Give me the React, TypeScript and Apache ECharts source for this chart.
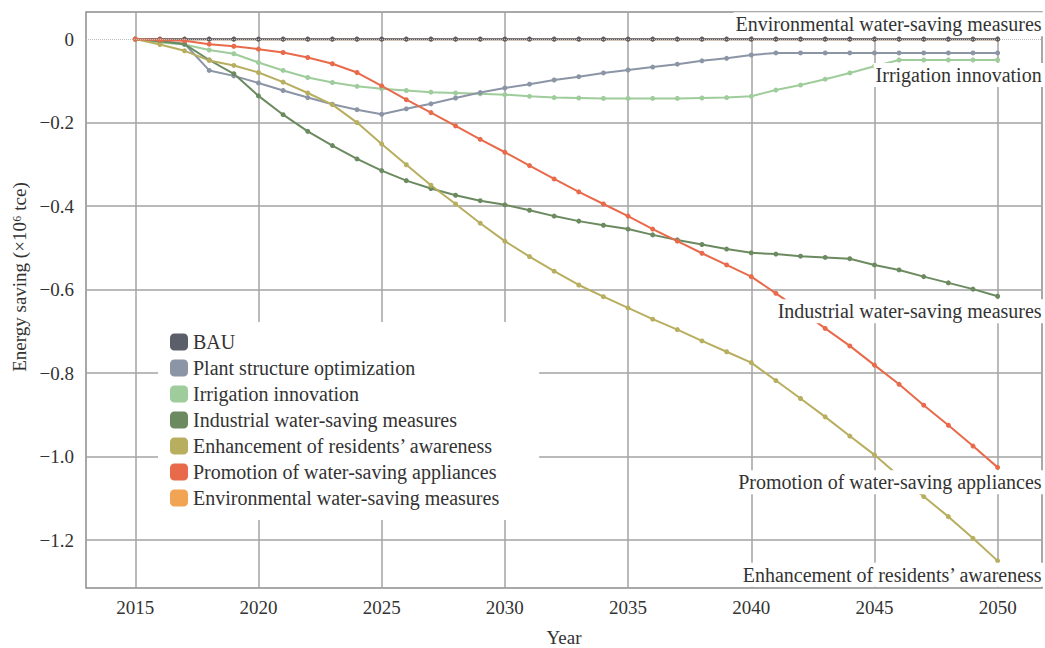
import React, { useEffect, useRef } from "react";
import * as echarts from "echarts";

const years = [2015, 2016, 2017, 2018, 2019, 2020, 2021, 2022, 2023, 2024, 2025, 2026, 2027, 2028, 2029, 2030, 2031, 2032, 2033, 2034, 2035, 2036, 2037, 2038, 2039, 2040, 2041, 2042, 2043, 2044, 2045, 2046, 2047, 2048, 2049, 2050];

const bau = [0, 0, 0, 0, 0, 0, 0, 0, 0, 0, 0, 0, 0, 0, 0, 0, 0, 0, 0, 0, 0, 0, 0, 0, 0, 0, 0, 0, 0, 0, 0, 0, 0, 0, 0, 0];
const plantStructure = [0, -0.004, -0.011, -0.075, -0.088, -0.105, -0.123, -0.140, -0.156, -0.169, -0.180, -0.167, -0.155, -0.141, -0.128, -0.117, -0.108, -0.098, -0.090, -0.081, -0.074, -0.067, -0.060, -0.052, -0.046, -0.038, -0.033, -0.033, -0.033, -0.033, -0.033, -0.033, -0.033, -0.033, -0.033, -0.033];
const irrigation = [0, -0.008, -0.013, -0.026, -0.035, -0.056, -0.075, -0.092, -0.104, -0.113, -0.119, -0.123, -0.127, -0.129, -0.131, -0.133, -0.137, -0.140, -0.141, -0.142, -0.142, -0.142, -0.142, -0.141, -0.140, -0.137, -0.122, -0.110, -0.096, -0.081, -0.065, -0.050, -0.050, -0.050, -0.050, -0.050];
const industrial = [0, -0.005, -0.012, -0.050, -0.083, -0.136, -0.181, -0.221, -0.255, -0.287, -0.315, -0.339, -0.358, -0.374, -0.387, -0.397, -0.410, -0.424, -0.436, -0.446, -0.455, -0.469, -0.481, -0.492, -0.503, -0.512, -0.515, -0.520, -0.523, -0.526, -0.541, -0.553, -0.569, -0.584, -0.599, -0.616];
const residents = [0, -0.013, -0.028, -0.051, -0.063, -0.080, -0.103, -0.129, -0.157, -0.200, -0.251, -0.301, -0.350, -0.395, -0.441, -0.484, -0.521, -0.556, -0.589, -0.617, -0.644, -0.671, -0.696, -0.723, -0.749, -0.775, -0.818, -0.861, -0.905, -0.951, -0.996, -1.047, -1.096, -1.144, -1.196, -1.250];
const appliances = [0, -0.002, -0.004, -0.012, -0.017, -0.024, -0.032, -0.044, -0.059, -0.080, -0.112, -0.145, -0.176, -0.208, -0.240, -0.271, -0.303, -0.335, -0.366, -0.395, -0.424, -0.455, -0.484, -0.513, -0.541, -0.569, -0.609, -0.650, -0.693, -0.735, -0.781, -0.827, -0.877, -0.925, -0.975, -1.026];
const environmental = [0, 0, 0, 0, 0, 0, 0, 0, 0, 0, 0, 0, 0, 0, 0, 0, 0, 0, 0, 0, 0, 0, 0, 0, 0, 0, 0, 0, 0, 0, 0, 0, 0, 0, 0, 0];

const xTicks = [2015, 2020, 2025, 2030, 2035, 2040, 2045, 2050];
const yLabelTicks = [-1.2, -1.0, -0.8, -0.6, -0.4, -0.2, 0];
const yGridTicks = [-1.2, -1.0, -0.8, -0.6, -0.4, -0.2];

const names = [
  "BAU",
  "Plant structure optimization",
  "Irrigation innovation",
  "Industrial water-saving measures",
  "Enhancement of residents\u2019 awareness",
  "Promotion of water-saving appliances",
  "Environmental water-saving measures",
];
const colors = ["#5b5f69", "#8b95a6", "#9fcc9b", "#6b8a60", "#b8ae5f", "#e96a4a", "#f2a455"];

const FONT = "Liberation Serif";
const TEXT = "#333333";

function pairs(vals: number[]) {
  return years.map((y, i) => [y, vals[i]]);
}

export default function App() {
  const ref = useRef<HTMLDivElement>(null);
  useEffect(() => {
    if (!ref.current) return;
    const chart = echarts.init(ref.current, undefined, { renderer: "svg" });

    const endLabel = (show: boolean, dy: number) =>
      show
        ? {
            show: true,
            formatter: "{a}",
            align: "right",
            verticalAlign: "middle",
            offset: [38, dy],
            color: TEXT,
            fontFamily: FONT,
            fontSize: 20,
            backgroundColor: "#ffffff",
            padding: [2, 2, 2, 2],
          }
        : { show: false };

    const makeSeries = (idx: number, vals: number[], labelDy: number | null, z: number) => ({
      name: names[idx],
      type: "line",
      data: pairs(vals),
      symbol: "circle",
      symbolSize: 5,
      showAllSymbol: true,
      z,
      lineStyle: { color: colors[idx], width: 2 },
      itemStyle: { color: colors[idx] },
      endLabel: endLabel(labelDy !== null, labelDy ?? 0),
      emphasis: { disabled: true },
    });

    const envSeries: any = makeSeries(6, environmental, -15, 2);
    envSeries.markLine = {
      silent: true,
      symbol: "none",
      label: { show: false },
      lineStyle: { type: "dotted", color: "#bdbdbd", width: 1 },
      data: [{ yAxis: 0 }],
    };

    const option: any = {
      animation: false,
      backgroundColor: "#ffffff",
      textStyle: { fontFamily: FONT, color: TEXT },
      grid: {
        left: 86,
        right: 3,
        top: 12,
        bottom: 60,
        show: true,
        outerBoundsMode: "none",
        containLabel: false,
        borderColor: "#8c8c8c",
        borderWidth: 1.5,
      },
      legend: {
        orient: "vertical",
        left: 158,
        top: 322,
        padding: [10, 40, 12, 12],
        backgroundColor: "#ffffff",
        icon: "roundRect",
        itemWidth: 18,
        itemHeight: 17,
        itemGap: 6,
        data: names,
        textStyle: { fontFamily: FONT, fontSize: 20, color: TEXT, lineHeight: 20 },
      },
      xAxis: {
        type: "value",
        min: 2013,
        max: 2051.8,
        name: "Year",
        nameLocation: "middle",
        nameGap: 40,
        nameTextStyle: { fontFamily: FONT, fontSize: 19, color: TEXT },
        axisLine: { show: false },
        axisTick: { show: false, customValues: xTicks },
        axisLabel: {
          customValues: xTicks,
          margin: 10,
          fontFamily: FONT,
          fontSize: 19,
          color: TEXT,
          formatter: (v: number) => String(v),
        },
        splitLine: { show: true, lineStyle: { color: "#a3a3a3", width: 1.5 } },
      },
      yAxis: {
        type: "value",
        min: -1.315,
        max: 0.065,
        name: "Energy saving (\u00d710\u2076 tce)",
        nameLocation: "middle",
        nameGap: 57,
        nameRotate: 90,
        nameTextStyle: { fontFamily: FONT, fontSize: 19, color: TEXT, padding: [0, 0, 0, 46] },
        axisLine: { show: false },
        axisTick: { show: false, customValues: yGridTicks },
        axisLabel: {
          customValues: yLabelTicks,
          margin: 12,
          fontFamily: FONT,
          fontSize: 19,
          color: TEXT,
          formatter: (v: number) => (Math.abs(v) < 1e-9 ? "0" : "\u2212" + Math.abs(v).toFixed(1)),
        },
        splitLine: { show: true, lineStyle: { color: "#a3a3a3", width: 1.5 } },
      },
      series: [
        envSeries,
        makeSeries(0, bau, null, 3),
        makeSeries(2, irrigation, 15, 3),
        makeSeries(1, plantStructure, null, 3),
        makeSeries(3, industrial, 15, 3),
        makeSeries(4, residents, 14, 3),
        makeSeries(5, appliances, 15, 3),
      ],
    };
    chart.setOption(option);
    return () => chart.dispose();
  }, []);

  return (
    <div
      ref={ref}
      style={{ position: "absolute", left: 0, top: 0, width: 1045, height: 648 }}
    />
  );
}
